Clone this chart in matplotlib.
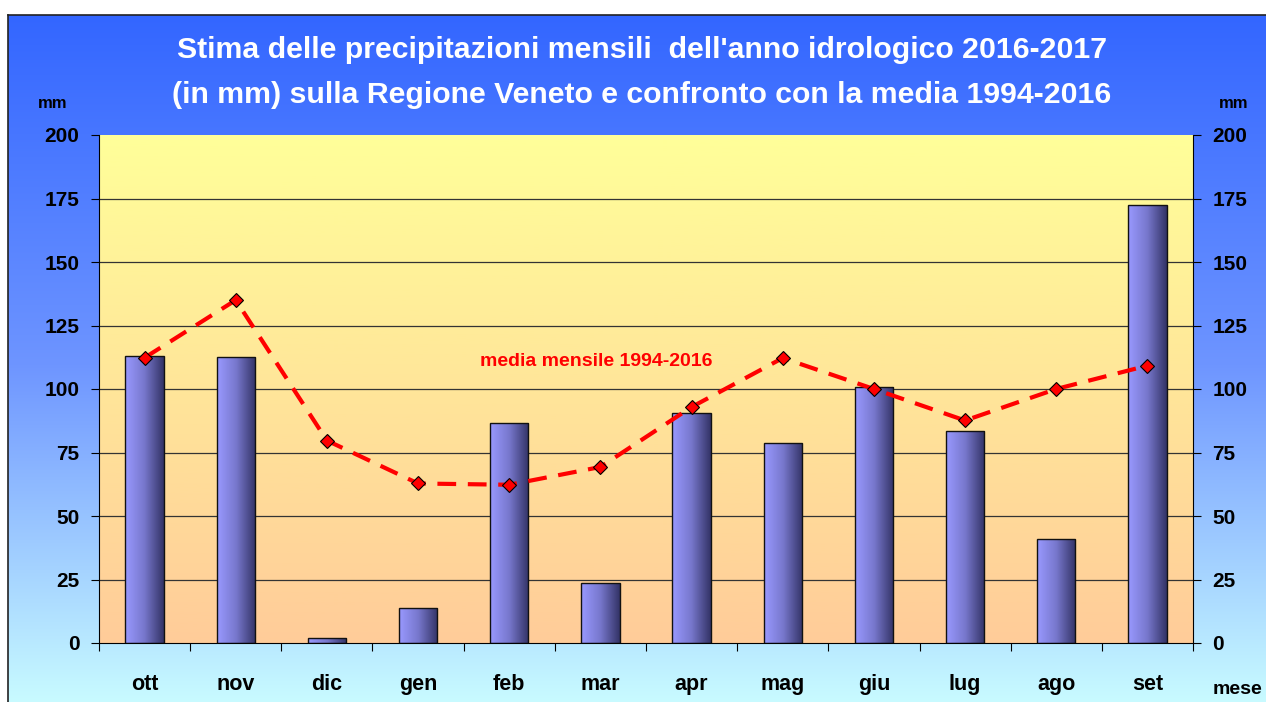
import numpy as np
import matplotlib
matplotlib.use("Agg")
import matplotlib.pyplot as plt
from matplotlib.colors import LinearSegmentedColormap

plt.rcParams['font.family'] = ['Liberation Sans', 'DejaVu Sans']
plt.rcParams['font.weight'] = 'bold'

mesi = ['ott', 'nov', 'dic', 'gen', 'feb', 'mar', 'apr', 'mag', 'giu', 'lug', 'ago', 'set']
pioggia = [113, 112.6, 2, 13.8, 86.6, 23.6, 90.5, 78.7, 100.8, 83.5, 41, 172.4]
media = [112.3, 135, 79.7, 62.8, 62.3, 69.3, 92.9, 112.2, 100, 87.6, 100, 109.2]
yticks = [0, 25, 50, 75, 100, 125, 150, 175, 200]

W, H = 1266, 702
fig = plt.figure(figsize=(W / 100, H / 100), dpi=100)
fig.patch.set_facecolor('white')

# sfondo del grafico (gradiente blu -> azzurro), bordi destro e basso fuori figura
bg = fig.add_axes([8 / W, -0.02, 1.0, 1 - 15 / H + 0.02], zorder=-10)
cm_bg = LinearSegmentedColormap.from_list('bg', ['#3366ff', '#6e95ff', '#ccffff'])
bg.imshow(np.linspace(0, 1, 256).reshape(-1, 1), aspect='auto', cmap=cm_bg,
          extent=[0, 1, 0, 1], origin='upper')
bg.set_xticks([])
bg.set_yticks([])
for s in bg.spines.values():
    s.set_color('#222222')
    s.set_linewidth(1.2)

# area del grafico
x0, x1, ytop, ybot = 99, 1193, 135, 643
ax = fig.add_axes([x0 / W, 1 - ybot / H, (x1 - x0) / W, (ybot - ytop) / H])
ax.set_xlim(-0.5, len(mesi) - 0.5)
ax.set_ylim(0, 200)
cm_pa = LinearSegmentedColormap.from_list('pa', ['#ffff99', '#ffcc99'])
ax.imshow(np.linspace(0, 1, 256).reshape(-1, 1), aspect='auto', cmap=cm_pa,
          extent=[-0.5, len(mesi) - 0.5, 0, 200], origin='upper', zorder=0)

for y in yticks[1:-1]:
    ax.axhline(y, color='#333333', lw=0.9, zorder=1)

x = np.arange(len(mesi))
bars = ax.bar(x, pioggia, width=0.42, color='none', edgecolor='#111111', lw=1.0, zorder=3)
cm_bar = LinearSegmentedColormap.from_list('bar', ['#9999ff', '#7777cc', '#333366'])
grad = np.linspace(0, 1, 128).reshape(1, -1)
for b in bars:
    im = ax.imshow(grad, aspect='auto', cmap=cm_bar, zorder=2,
                   extent=[b.get_x(), b.get_x() + b.get_width(), 0, b.get_height()])
    im.set_clip_path(b)

ax.plot(x, media, color='#ff0000', lw=3, dashes=(4.5, 2.8), zorder=4)
ax.plot(x, media, ls='none', marker='D', ms=7, mfc='#ff0000', mec='#000000', mew=0.8, zorder=5)
ax.text(4.95, 111, 'media mensile 1994-2016', color='#ff0000', fontsize=14,
        fontweight='bold', ha='center', va='center', zorder=6)

ax.set_yticks(yticks)
ax.tick_params(axis='y', labelsize=15, length=6, direction='out', left=True, right=True,
               labelleft=True, labelright=True, pad=8)
ax.set_xticks(np.arange(-0.5, len(mesi), 1))
ax.set_xticklabels([])
ax.set_xticks(x, minor=True)
ax.set_xticklabels(mesi, minor=True, fontsize=15.5, fontweight='bold')
ax.tick_params(axis='x', which='major', length=6, direction='out')
ax.tick_params(axis='x', which='minor', length=0, pad=22)
ax.spines['top'].set_visible(False)
ax.spines['bottom'].set_zorder(6)
for lab in ax.get_yticklabels():
    lab.set_fontweight('bold')

fig.text(642 / W, 1 - 50 / H, "Stima delle precipitazioni mensili  dell'anno idrologico 2016-2017",
         color='white', fontsize=21.8, fontweight='bold', ha='center', va='center')
fig.text(642 / W, 1 - 95 / H, "(in mm) sulla Regione Veneto e confronto con la media 1994-2016",
         color='white', fontsize=21.8, fontweight='bold', ha='center', va='center')
fig.text(53 / W, 1 - 103 / H, 'mm', fontsize=12, fontweight='bold', ha='center', va='center')
fig.text(1234 / W, 1 - 103 / H, 'mm', fontsize=12, fontweight='bold', ha='center', va='center')
fig.text(1237 / W, 1 - 690 / H, 'mese', fontsize=14, fontweight='bold', ha='center', va='center')

fig.savefig('out.png', dpi=100)
